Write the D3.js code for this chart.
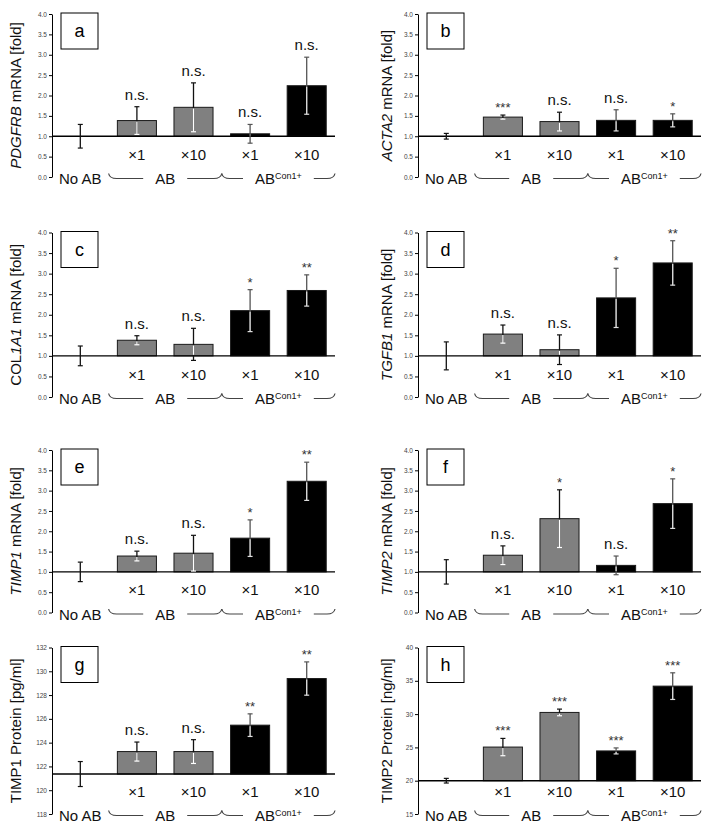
<!DOCTYPE html>
<html><head><meta charset="utf-8">
<script src="https://cdn.jsdelivr.net/npm/d3@7"></script>
<style>
body{margin:0;background:#fff}
svg{display:block}
text{font-family:"Liberation Sans",Arial,sans-serif}
</style>
</head><body>
<svg id="chart" width="712" height="835"></svg>
<script>
// ---------- data ----------
const categories = ["No AB", "×1", "×10", "×1", "×10"];
const barTones = ["none", "gray", "gray", "black", "black"];
const groupNames = ["AB", "AB"];
const groupSups = ["", "Con1+"];
const panelLetters = ["a", "b", "c", "d", "e", "f", "g", "h"];

const pdgfrbMean = [1.00, 1.385, 1.71, 1.06, 2.24];
const pdgfrbErr  = [0.29, 0.34, 0.60, 0.23, 0.70];
const pdgfrbSig  = ["", "n.s.", "n.s.", "n.s.", "n.s."];

const acta2Mean = [1.00, 1.47, 1.36, 1.39, 1.39];
const acta2Err  = [0.07, 0.05, 0.23, 0.26, 0.16];
const acta2Sig  = ["", "***", "n.s.", "n.s.", "*"];

const col1a1Mean = [1.00, 1.38, 1.28, 2.10, 2.59];
const col1a1Err  = [0.24, 0.11, 0.39, 0.51, 0.38];
const col1a1Sig  = ["", "n.s.", "n.s.", "*", "**"];

const tgfb1Mean = [1.00, 1.53, 1.15, 2.41, 3.26];
const tgfb1Err  = [0.34, 0.22, 0.36, 0.72, 0.54];
const tgfb1Sig  = ["", "n.s.", "n.s.", "*", "**"];

const timp1Mean = [1.00, 1.39, 1.46, 1.83, 3.23];
const timp1Err  = [0.24, 0.12, 0.44, 0.45, 0.47];
const timp1Sig  = ["", "n.s.", "n.s.", "*", "**"];

const timp2Mean = [1.00, 1.41, 2.31, 1.16, 2.68];
const timp2Err  = [0.30, 0.23, 0.71, 0.23, 0.61];
const timp2Sig  = ["", "n.s.", "*", "n.s.", "*"];

const timp1ProtMean = [121.36, 123.25, 123.25, 125.47, 129.39];
const timp1ProtErr  = [1.05, 0.80, 1.00, 0.95, 1.40];
const timp1ProtSig  = ["", "n.s.", "n.s.", "**", "**"];

const timp2ProtMean = [20.0, 25.05, 30.25, 24.47, 34.2];
const timp2ProtErr  = [0.35, 1.3, 0.5, 0.45, 2.0];
const timp2ProtSig  = ["", "***", "***", "***", "***"];

const mrnaTicks = [0, 0.5, 1, 1.5, 2, 2.5, 3, 3.5, 4];
const timp1ProtTicks = [118, 120, 122, 124, 126, 128, 130, 132];
const timp2ProtTicks = [15, 20, 25, 30, 35, 40];

const yLabelA = [["PDGFRB", true], [" mRNA [fold]", false]];
const yLabelB = [["ACTA2", true], ["  mRNA [fold]", false]];
const yLabelC = [["COL", false], ["1A1", true], [" mRNA [fold]", false]];
const yLabelD = [["TGFB1", true], [" mRNA [fold]", false]];
const yLabelE = [["TIMP1", true], [" mRNA [fold]", false]];
const yLabelF = [["TIMP2", true], [" mRNA [fold]", false]];
const yLabelG = [["TIMP1 Protein [pg/ml]", false]];
const yLabelH = [["TIMP2 Protein [ng/ml]", false]];

// ---------- layout ----------
const svg = d3.select("#chart");
const colX = [{x0: 52, x1: 335, lab: 15}, {x0: 418, x1: 701, lab: 386}];
const rowY = [{top: 14, bottom: 177}, {top: 232.5, bottom: 397}, {top: 450, bottom: 612.5}, {top: 647.5, bottom: 814}];

const panels = [
  {mean: pdgfrbMean, err: pdgfrbErr, sig: pdgfrbSig, ticks: mrnaTicks, domain: [0, 4], base: 1, label: yLabelA, fmt: d3.format(".1f")},
  {mean: acta2Mean, err: acta2Err, sig: acta2Sig, ticks: mrnaTicks, domain: [0, 4], base: 1, label: yLabelB, fmt: d3.format(".1f")},
  {mean: col1a1Mean, err: col1a1Err, sig: col1a1Sig, ticks: mrnaTicks, domain: [0, 4], base: 1, label: yLabelC, fmt: d3.format(".1f")},
  {mean: tgfb1Mean, err: tgfb1Err, sig: tgfb1Sig, ticks: mrnaTicks, domain: [0, 4], base: 1, label: yLabelD, fmt: d3.format(".1f")},
  {mean: timp1Mean, err: timp1Err, sig: timp1Sig, ticks: mrnaTicks, domain: [0, 4], base: 1, label: yLabelE, fmt: d3.format(".1f")},
  {mean: timp2Mean, err: timp2Err, sig: timp2Sig, ticks: mrnaTicks, domain: [0, 4], base: 1, label: yLabelF, fmt: d3.format(".1f")},
  {mean: timp1ProtMean, err: timp1ProtErr, sig: timp1ProtSig, ticks: timp1ProtTicks, domain: [118, 132], base: timp1ProtMean[0], label: yLabelG, fmt: d3.format("d")},
  {mean: timp2ProtMean, err: timp2ProtErr, sig: timp2ProtSig, ticks: timp2ProtTicks, domain: [15, 40], base: timp2ProtMean[0], label: yLabelH, fmt: d3.format("d")}
];

panels.forEach((p, idx) => {
  const col = colX[idx % 2], row = rowY[Math.floor(idx / 2)];
  drawPanel(p, col, row, panelLetters[idx]);
});

function drawPanel(p, col, row, letter) {
  const g = svg.append("g");
  const x = d3.scaleBand().domain(d3.range(categories.length))
    .range([col.x0, col.x1]).paddingInner(0.31).paddingOuter(0.155);
  const y = d3.scaleLinear().domain(p.domain).range([row.bottom, row.top]);
  const step = x.step();
  const cx = i => x(i) + x.bandwidth() / 2;

  // y axis
  const ax = g.append("g").attr("transform", `translate(${col.x0},0)`)
    .call(d3.axisLeft(y).tickValues(p.ticks).tickFormat(p.fmt).tickSize(3).tickSizeOuter(0).tickPadding(2));
  ax.select(".domain").attr("stroke", "#000").attr("stroke-width", 1);
  ax.selectAll(".tick line").attr("stroke", "#000");
  ax.selectAll(".tick text").attr("font-size", 6.5).attr("fill", "#444")
    .attr("font-family", "'Liberation Sans',Arial,sans-serif");

  // bars
  for (let i = 1; i < categories.length; i++) {
    const top = y(p.mean[i]), b = y(p.base);
    g.append("rect").attr("x", x(i)).attr("y", Math.min(top, b)).attr("width", x.bandwidth())
      .attr("height", Math.abs(b - top))
      .attr("fill", barTones[i] === "gray" ? "#808080" : "#000")
      .attr("stroke", "#1a1a1a").attr("stroke-width", 1);
  }

  // baseline
  g.append("line").attr("x1", col.x0).attr("x2", col.x1).attr("y1", y(p.base)).attr("y2", y(p.base))
    .attr("stroke", "#000").attr("stroke-width", 1.4);

  // error bars
  for (let i = 0; i < categories.length; i++) {
    const m = p.mean[i], e = p.err[i], xc = cx(i);
    const hi = m + e, lo = m - e;
    const dark = barTones[i] === "black" ? "#555" : "#111";
    const light = barTones[i] === "black" ? "#ddd" : "#fff";
    g.append("line").attr("x1", xc).attr("x2", xc).attr("y1", y(hi)).attr("y2", y(lo))
      .attr("stroke", dark).attr("stroke-width", 1.3);
    g.append("line").attr("x1", xc - 2.5).attr("x2", xc + 2.5).attr("y1", y(hi)).attr("y2", y(hi))
      .attr("stroke", dark).attr("stroke-width", 1.2);
    if (i === 0) {
      g.append("line").attr("x1", xc - 2.5).attr("x2", xc + 2.5).attr("y1", y(lo)).attr("y2", y(lo))
        .attr("stroke", dark).attr("stroke-width", 1.2);
    } else {
      const inLo = Math.max(lo, p.base);
      g.append("line").attr("x1", xc).attr("x2", xc).attr("y1", y(m) + 1).attr("y2", y(inLo) - (lo >= p.base ? 0 : 1))
        .attr("stroke", light).attr("stroke-width", 1.3);
      g.append("line").attr("x1", xc - 2.5).attr("x2", xc + 2.5).attr("y1", y(lo)).attr("y2", y(lo))
        .attr("stroke", lo >= p.base ? light : dark).attr("stroke-width", 1.2);
    }
    // significance
    if (p.sig[i]) {
      const star = p.sig[i] !== "n.s.";
      g.append("text").attr("x", xc).attr("y", y(hi) - (star ? 3 : 7))
        .attr("text-anchor", "middle").attr("font-size", star ? 13 : 15)
        .attr("fill", star ? "#333" : "#111").text(p.sig[i]);
    }
  }

  // category labels
  for (let i = 1; i < categories.length; i++) {
    g.append("text").attr("x", cx(i)).attr("y", row.bottom - 17.5).attr("text-anchor", "middle")
      .attr("font-size", 15).attr("fill", "#111").text(categories[i]);
  }
  g.append("text").attr("x", cx(0)).attr("y", row.bottom + 7).attr("text-anchor", "middle")
    .attr("font-size", 15).attr("fill", "#111").text(categories[0]);

  // group braces
  const bounds = [[col.x0 + step, col.x0 + 3 * step], [col.x0 + 3 * step, col.x1]];
  const lineY = row.bottom + 1.5, tipY = row.bottom - 3.5;
  bounds.forEach(([L, R], k) => {
    const mid = (L + R) / 2;
    const t = g.append("text").attr("x", mid).attr("y", row.bottom + 7).attr("text-anchor", "middle")
      .attr("font-size", 15).attr("fill", "#111");
    t.append("tspan").text(groupNames[k]);
    if (groupSups[k]) t.append("tspan").attr("font-size", 9).attr("dy", -5).text(groupSups[k]);
    const w = t.node().getBBox().width;
    const gap = 12;
    g.append("path").attr("d",
      `M${L},${tipY} Q${L + 1},${lineY} ${L + 8},${lineY} H${mid - w / 2 - gap}` +
      ` M${mid + w / 2 + gap},${lineY} H${R - 8} Q${R - 1},${lineY} ${R},${tipY}`)
      .attr("fill", "none").attr("stroke", "#444").attr("stroke-width", 1.2);
  });

  // panel letter box
  g.append("rect").attr("x", col.x0 + 9).attr("y", row.top - 1).attr("width", 37).attr("height", 36)
    .attr("fill", "#fff").attr("stroke", "#000").attr("stroke-width", 1);
  g.append("text").attr("x", col.x0 + 9 + 18.5).attr("y", row.top - 1 + 24).attr("text-anchor", "middle")
    .attr("font-size", 18).attr("fill", "#000").text(letter);

  // y label
  const yl = g.append("text").attr("transform", `translate(${col.lab},${(row.top + row.bottom) / 2}) rotate(-90)`)
    .attr("text-anchor", "middle").attr("dominant-baseline", "central").attr("font-size", 15).attr("fill", "#111");
  p.label.forEach(([s, it]) => yl.append("tspan").attr("font-style", it ? "italic" : "normal").text(s));
}
</script>
</body></html>
